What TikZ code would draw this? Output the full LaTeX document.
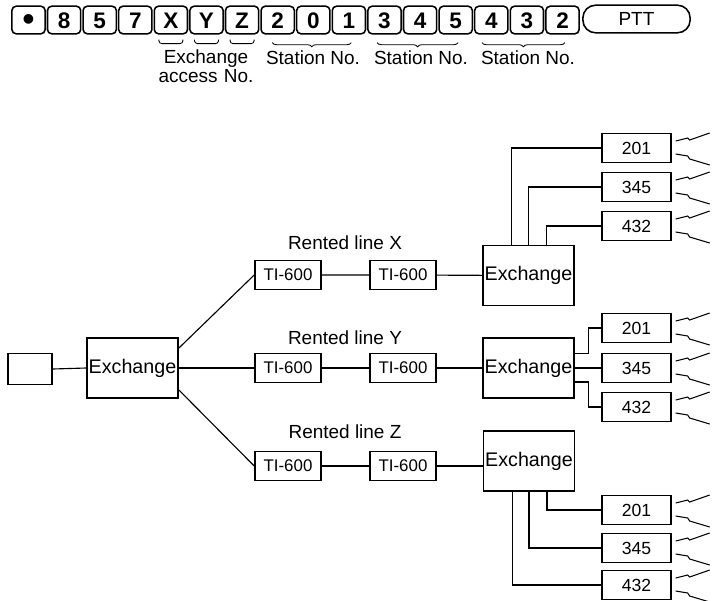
\documentclass[tikz,border=0pt]{standalone}
\usepackage{fontspec}
\setmainfont{Liberation Sans}
\usetikzlibrary{positioning,decorations.pathreplacing}

\begin{document}
\begin{tikzpicture}[
      x=0.025cm, y=-0.025cm,
      every node/.style={font=\fontsize{13.5}{17}\selectfont},
      box/.style={
        draw,
        line width=1.1pt,
        inner sep=0pt
      },
      keybox/.style={box, rounded corners=3pt, minimum width=0.83cm, minimum height=0.69cm,
        text height=0.4cm, text depth=0pt, font=\fontsize{16}{16}\selectfont\bfseries},
      exch/.style={box, minimum width=2.28cm, minimum height=1.5cm, font=\fontsize{14}{14}\selectfont},
      tibox/.style={box, minimum width=1.65cm, minimum height=0.72cm, font=\fontsize{12}{12}\selectfont},
      stn/.style={box, minimum width=1.72cm, minimum height=0.72cm, font=\fontsize{12.5}{12.5}\selectfont},
      wire/.style={line width=0.8pt},
      zap/.style={line width=0.75pt}
    ]
      \path[use as bounding box] (0,0) rectangle (723,600);

      % Dialled number
      \foreach \c [count=\i from 0] in {{\raisebox{-0.1em}{\fontsize{24}{24}\selectfont\textbullet}},8,5,7,X,Y,Z,2,0,1,3,4,5,4,3,2}
        \node[keybox] (k\i) at (28.5+35.6*\i, 20) {\c};
      \node[box, rounded corners=9pt, minimum width=2.68cm, minimum height=0.69cm] (ptt) at (636.5, 19) {PTT};

      % Brackets and labels
      \foreach \k in {k4,k5,k6}
        \draw[line width=0.6pt, rounded corners=2pt] ([shift={(-12,5)}]\k.south) -- ++(0,4) -- ++(24,0) -- ++(0,-4);
      \draw[line width=0.6pt, decorate, decoration={brace, mirror, amplitude=3pt}]
        ([shift={(12,8)}]k7.south west) -- ([shift={(-15,8)}]k9.south east);
      \draw[line width=0.6pt, decorate, decoration={brace, mirror, amplitude=3pt}]
        ([shift={(10,8)}]k10.south west) -- ([shift={(-15,8)}]k12.south east);
      \draw[line width=0.6pt, decorate, decoration={brace, mirror, amplitude=3pt}]
        ([shift={(8,8)}]k13.south west) -- ([shift={(-15,8)}]k15.south east);
      \node[align=center, font=\fontsize{13.5}{13.5}\selectfont] (lacc) at (206, 66) {Exchange\\access\,\,No.};
      \node (lst1) at (313, 58) {Station No.};
      \node (lst2) at (421, 58) {Station No.};
      \node (lst3) at (528, 58) {Station No.};

      % Left side
      \node[box, minimum width=1.1cm, minimum height=0.78cm] (term) at (30, 369) {};
      \node[exch] (exL) at (132.5, 368) {Exchange};

      % Rented lines
      \node (rlX) at (345, 243) {Rented line X};
      \node (rlY) at (345, 338) {Rented line Y};
      \node (rlZ) at (345, 432) {Rented line Z};
      \node[tibox] (tiA1) at (288, 275) {TI-600};
      \node[tibox] (tiA2) at (403, 275) {TI-600};
      \node[tibox] (tiB1) at (288, 368) {TI-600};
      \node[tibox] (tiB2) at (403, 368) {TI-600};
      \node[tibox] (tiC1) at (288, 466) {TI-600};
      \node[tibox] (tiC2) at (403, 466) {TI-600};

      % Far exchanges
      \node[exch] (exA) at (528.5, 275.5) {Exchange};
      \node[exch] (exB) at (528.5, 368) {Exchange};
      \node[exch] (exC) at (529, 461) {Exchange};

      % Stations
      \node[stn] (sA1) at (636.5, 148) {201};
      \node[stn] (sA2) at (636.5, 187) {345};
      \node[stn] (sA3) at (636.5, 226) {432};
      \node[stn] (sB1) at (636.5, 328) {201};
      \node[stn] (sB2) at (636.5, 368) {345};
      \node[stn] (sB3) at (636.5, 407) {432};
      \node[stn] (sC1) at (636.5, 510) {201};
      \node[stn] (sC2) at (636.5, 548) {345};
      \node[stn] (sC3) at (636.5, 585) {432};

      % Connections
      \draw[wire] (term.east) -- (exL.west);
      \draw[wire] ([yshift=-0.27cm]exL.north east) -- (tiA1.west);
      \draw[wire] (exL.east) -- (tiB1.west);
      \draw[wire] ([yshift=0.22cm]exL.south east) -- (tiC1.west);
      \draw[wire] (tiA1) -- (tiA2) -- (exA);
      \draw[wire] (tiB1) -- (tiB2) -- (exB);
      \draw[wire] (tiC1) -- (tiC2) -- (exC.west |- tiC2);

      \draw[wire] ([xshift=-0.42cm]exA.north) |- (sA1.west);
      \draw[wire] (exA.north) |- (sA2.west);
      \draw[wire] ([xshift=0.45cm]exA.north) |- (sA3.west);
      \draw[wire] ([yshift=0.37cm]exB.east) -- ++(0.35cm,0) |- (sB1.west);
      \draw[wire] (exB.east) -- (sB2.west);
      \draw[wire] ([yshift=-0.35cm]exB.east) -- ++(0.35cm,0) |- (sB3.west);
      \draw[wire] ([xshift=0.45cm]exC.south) |- (sC1.west);
      \draw[wire] (exC.south) |- (sC2.west);
      \draw[wire] ([xshift=-0.42cm]exC.south) |- (sC3.west);

      % Radio links
      \foreach \s in {sA1,sA2,sA3,sB1,sB2,sB3,sC1,sC2,sC3} {
        \draw[zap] ([shift={(4,-7)}]\s.east) -- ++(12,-3) -- ++(2,2) -- ++(20,-7);
        \draw[zap] ([shift={(4,6)}]\s.east) -- ++(12,2) -- ++(2,3) -- ++(20,6);
      }
    \end{tikzpicture}
\end{document}
